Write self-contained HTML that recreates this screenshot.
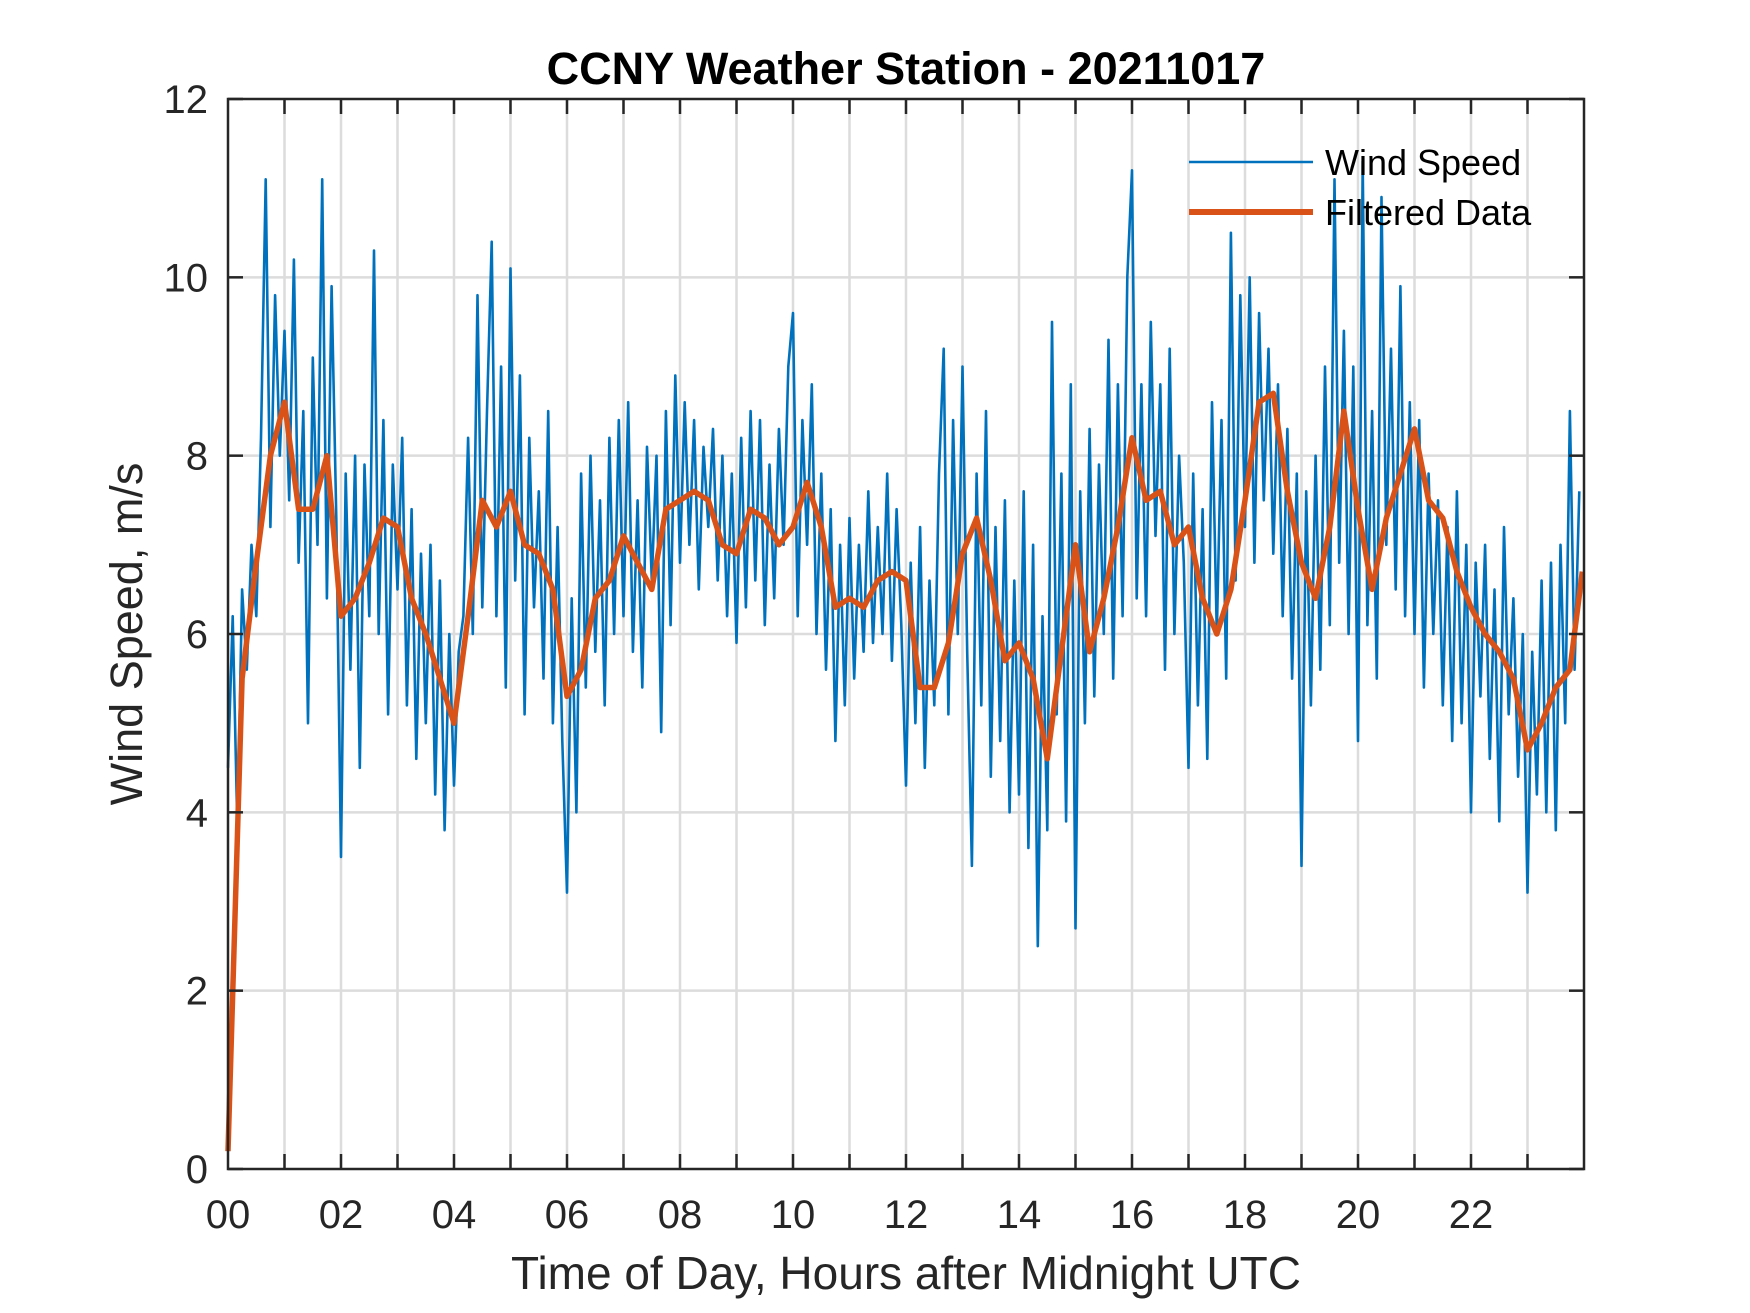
<!DOCTYPE html>
<html><head><meta charset="utf-8"><style>
html,body{margin:0;padding:0;background:#fff;}
svg{display:block;font-family:"Liberation Sans",Arial,sans-serif;}
</style></head><body>
<svg id="chart" width="1750" height="1313" viewBox="0 0 1750 1313" xmlns="http://www.w3.org/2000/svg">
<rect width="1750" height="1313" fill="#fff"/>
<g id="grid"></g>
<g id="series"></g>
<g id="axes"></g>
<text x="906" y="84" text-anchor="middle" font-size="45" font-weight="bold" fill="#000">CCNY Weather Station - 20211017</text>
<text x="906" y="1289" text-anchor="middle" font-size="46" fill="#262626">Time of Day, Hours after Midnight UTC</text>
<text transform="translate(142,634) rotate(-90)" text-anchor="middle" font-size="45" fill="#262626">Wind Speed, m/s</text>
<g>
<g>
<line x1="1189" y1="162" x2="1313" y2="162" stroke="#0072BD" stroke-width="2.5"/>
<text x="1325" y="175" font-size="36" fill="#000">Wind Speed</text>
</g>
<g>
<line x1="1189" y1="212" x2="1313" y2="212" stroke="#D95319" stroke-width="6"/>
<text x="1325" y="225" font-size="36" fill="#000">Filtered Data</text>
</g>
</g>
</svg>
<script>
const xTickLabels = ["00","02","04","06","08","10","12","14","16","18","20","22"];
const yTickValues = [0,2,4,6,8,10,12];
// wind speed, 5-minute samples (hours = i/12)
const windSpeed = [
4.5,6.2,3.8,6.5,5.6,7.0,6.2,8.2,11.1,7.2,9.8,8.0,
9.4,7.5,10.2,6.8,8.5,5.0,9.1,7.0,11.1,6.4,9.9,7.3,
3.5,7.8,5.6,8.0,4.5,7.9,6.2,10.3,6.0,8.4,5.1,7.9,
6.5,8.2,5.2,7.4,4.6,6.9,5.0,7.0,4.2,6.6,3.8,6.0,
4.3,5.8,6.2,8.2,6.0,9.8,6.3,8.5,10.4,6.2,9.0,5.4,
10.1,6.6,8.9,5.1,8.2,6.3,7.6,5.5,8.5,5.0,7.2,4.8,
3.1,6.4,4.0,7.8,5.4,8.0,5.8,7.5,5.2,8.2,6.0,8.4,
6.2,8.6,5.8,7.5,5.4,8.1,6.6,8.0,4.9,8.5,6.1,8.9,
6.8,8.6,7.0,8.4,6.5,8.1,7.2,8.3,6.6,8.0,6.2,7.8,
5.9,8.2,6.3,8.5,6.6,8.4,6.1,7.9,6.4,8.3,7.0,9.0,
9.6,6.2,8.4,7.0,8.8,6.0,7.8,5.6,7.4,4.8,7.0,5.2,
7.3,5.5,7.0,5.8,7.6,5.9,7.2,6.0,7.8,5.7,7.4,6.1,
4.3,6.8,5.0,7.2,4.5,6.6,5.2,7.8,9.2,5.1,8.4,6.0,
9.0,5.8,3.4,7.8,5.2,8.5,4.4,7.2,4.8,7.5,4.0,6.6,
4.2,7.6,3.6,7.0,2.5,6.2,3.8,9.5,5.1,7.8,3.9,8.8,
2.7,7.6,5.0,8.3,5.3,7.9,6.0,9.3,5.5,8.8,6.2,10.0,
11.2,6.4,8.8,6.2,9.5,7.1,8.8,5.6,9.2,6.0,8.0,6.8,
4.5,7.8,5.2,7.4,4.6,8.6,6.0,8.4,5.5,10.5,6.6,9.8,
7.2,10.0,6.8,9.6,7.5,9.2,6.9,8.8,6.2,8.3,5.5,7.8,
3.4,7.6,5.2,8.0,5.6,9.0,6.1,11.1,6.8,9.4,6.0,9.0,
4.8,11.3,6.1,8.5,5.5,10.9,7.0,9.2,6.5,9.9,6.2,8.6,
6.0,8.4,5.4,7.8,6.0,7.5,5.2,7.2,4.8,7.6,5.0,7.0,
4.0,6.8,5.3,7.0,4.6,6.5,3.9,7.2,5.1,6.4,4.4,6.0,
3.1,5.8,4.2,6.6,4.0,6.8,3.8,7.0,5.0,8.5,5.6,7.6];
// filtered data, 15-minute samples (hours = i/4)
const filtered = [
0.2,5.5,6.8,8.0,8.6,7.4,7.4,8.0,6.2,6.4,6.8,7.3,7.2,6.4,6.0,5.5,
5.0,6.2,7.5,7.2,7.6,7.0,6.9,6.5,5.3,5.6,6.4,6.6,7.1,6.8,6.5,7.4,
7.5,7.6,7.5,7.0,6.9,7.4,7.3,7.0,7.2,7.7,7.2,6.3,6.4,6.3,6.6,6.7,
6.6,5.4,5.4,5.9,6.9,7.3,6.6,5.7,5.9,5.5,4.6,5.8,7.0,5.8,6.4,7.2,
8.2,7.5,7.6,7.0,7.2,6.4,6.0,6.5,7.5,8.6,8.7,7.6,6.8,6.4,7.2,8.5,
7.4,6.5,7.3,7.8,8.3,7.5,7.3,6.7,6.3,6.0,5.8,5.5,4.7,5.0,5.4,5.6,6.7];

const X0=228, X1=1584, Y0=1169, Y1=99;
const xScale = h => X0 + (h/24)*(X1-X0);
const yScale = v => Y0 - (v/12)*(Y0-Y1);
const NS="http://www.w3.org/2000/svg";
function mk(tag, attrs, parent){const e=document.createElementNS(NS,tag);for(const k in attrs)e.setAttribute(k,attrs[k]);parent.appendChild(e);return e;}
const grid=document.getElementById('grid'), series=document.getElementById('series'), axes=document.getElementById('axes');

for(let h=1;h<24;h++){
  const x=xScale(h);
  const g=mk('line',{x1:x,y1:Y1,x2:x,y2:Y0,stroke:'#dcdcdc','stroke-width':2.5},grid);
  
  
}
yTickValues.forEach(v=>{
  if(v===0||v===12) return;
  const y=yScale(v);
  const g=mk('line',{x1:X0,y1:y,x2:X1,y2:y,stroke:'#dcdcdc','stroke-width':2.5},grid);
  
  
});

const wp=windSpeed.map((v,i)=>xScale(i/12).toFixed(1)+','+yScale(v).toFixed(1)).join(' ');
const wl=mk('polyline',{points:wp,fill:'none',stroke:'#0072BD','stroke-width':2.6,'stroke-linejoin':'round'},series);


const fp=filtered.map((v,i)=>xScale(Math.min(i/4,23.97)).toFixed(1)+','+yScale(v).toFixed(1)).join(' ');
const fl=mk('polyline',{points:fp,fill:'none',stroke:'#D95319','stroke-width':5.5,'stroke-linejoin':'round'},series);



const box=mk('rect',{x:X0,y:Y1,width:X1-X0,height:Y0-Y1,fill:'none',stroke:'#262626','stroke-width':2.5},axes);


for(let h=1;h<24;h++){
  const x=xScale(h);
  const t1=mk('line',{x1:x,y1:Y0,x2:x,y2:Y0-15,stroke:'#262626','stroke-width':2.5},axes);
  
  
  const t2=mk('line',{x1:x,y1:Y1,x2:x,y2:Y1+15,stroke:'#262626','stroke-width':2.5},axes);
  
  
}
xTickLabels.forEach((lab,i)=>{
  const t=mk('text',{x:xScale(i*2),y:1228,'text-anchor':'middle','font-size':40,fill:'#262626'},axes);
  t.textContent=lab;
  
  
});
yTickValues.forEach(v=>{
  const y=yScale(v);
  const a=mk('line',{x1:X0,y1:y,x2:X0+15,y2:y,stroke:'#262626','stroke-width':2.5},axes);
  
  
  const b=mk('line',{x1:X1,y1:y,x2:X1-15,y2:y,stroke:'#262626','stroke-width':2.5},axes);
  
  
  const t=mk('text',{x:208,y:y+14,'text-anchor':'end','font-size':40,fill:'#262626'},axes);
  t.textContent=String(v);
  
  
});
</script>
</body></html>
